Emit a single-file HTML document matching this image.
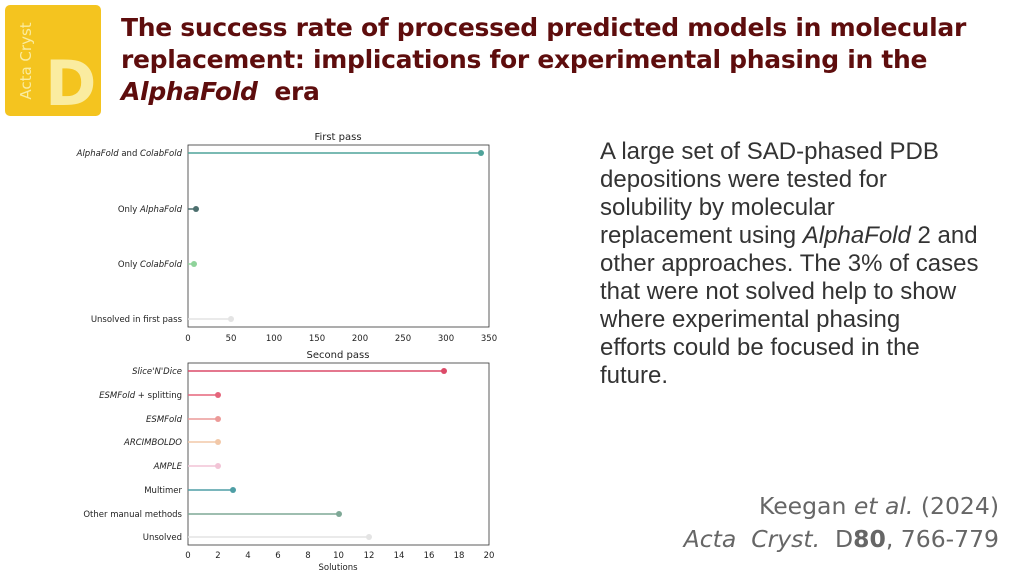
<!DOCTYPE html>
<html><head><meta charset="utf-8"><style>
body{margin:0;width:1014px;height:570px;background:#fff;position:relative;overflow:hidden;font-family:"Liberation Sans","DejaVu Sans",sans-serif}
.logo{position:absolute;left:5px;top:5px;width:96px;height:111px;background:#f4c41f;border-radius:5px}
.title{position:absolute;left:121px;top:12px;font-family:"DejaVu Sans",sans-serif;font-weight:bold;font-size:25px;line-height:32px;color:#5e0d0d;letter-spacing:-0.3px}
.para{position:absolute;left:600px;top:138px;width:420px;white-space:nowrap;font-family:"Liberation Sans",sans-serif;font-size:24px;line-height:28px;color:#333}
.cite{position:absolute;right:15px;top:490px;text-align:right;font-family:"DejaVu Sans",sans-serif;font-size:23.5px;line-height:33px;color:#666}
</style></head><body>
<div class="logo">
<div style="position:absolute;left:-28px;top:46px;width:100px;height:20px;transform:rotate(-90deg);color:#faeca0;font-size:15px;text-align:center;font-family:'DejaVu Sans',sans-serif">Acta Cryst</div>
<div style="position:absolute;left:40px;top:46px;color:#faeca0;font-size:62px;font-weight:bold;font-family:'DejaVu Sans',sans-serif;line-height:66px">D</div>
</div>
<div class="title">The success rate of processed predicted models in molecular<br>replacement: implications for experimental phasing in the<br><i>AlphaFold</i>&nbsp; era</div>
<div class="para">A large set of SAD-phased PDB<br>depositions were tested for<br>solubility by molecular<br>replacement using <i>AlphaFold</i> 2 and<br>other approaches. The 3% of cases<br>that were not solved help to show<br>where experimental phasing<br>efforts could be focused in the<br>future.</div>
<div class="cite">Keegan <i>et al.</i> (2024)<br><i>Acta&nbsp; Cryst.</i>&nbsp; D<b>80</b>, 766-779</div>
<svg width="1014" height="570" style="position:absolute;left:0;top:0" font-family="DejaVu Sans, sans-serif" font-size="8.5" fill="#222">
<text x="338" y="140" text-anchor="middle" font-size="10">First pass</text>
<rect x="188" y="145" width="301" height="182" fill="none" stroke="#333" stroke-width="0.8"/>
<g stroke-width="1.5">
<line x1="188" y1="153" x2="481" y2="153" stroke="#4fa39a"/><circle cx="481" cy="153" r="3" fill="#4fa39a"/>
<line x1="188" y1="209" x2="196" y2="209" stroke="#4c6f6e"/><circle cx="196" cy="209" r="3" fill="#4c6f6e"/>
<line x1="188" y1="264" x2="194" y2="264" stroke="#8fd39a"/><circle cx="194" cy="264" r="3" fill="#8fd39a"/>
<line x1="188" y1="319" x2="231" y2="319" stroke="#e4e4e4"/><circle cx="231" cy="319" r="3" fill="#e4e4e4"/>
</g>
<g text-anchor="end">
<text x="182" y="156"><tspan font-style="italic">AlphaFold</tspan> and <tspan font-style="italic">ColabFold</tspan></text>
<text x="182" y="212">Only <tspan font-style="italic">AlphaFold</tspan></text>
<text x="182" y="267">Only <tspan font-style="italic">ColabFold</tspan></text>
<text x="182" y="322">Unsolved in first pass</text>
</g>
<g text-anchor="middle">
<text x="188" y="341">0</text><text x="231" y="341">50</text><text x="274" y="341">100</text><text x="317" y="341">150</text><text x="360" y="341">200</text><text x="403" y="341">250</text><text x="446" y="341">300</text><text x="489" y="341">350</text>
</g>
<text x="338" y="358" text-anchor="middle" font-size="10">Second pass</text>
<rect x="188" y="363" width="301" height="182" fill="none" stroke="#333" stroke-width="0.8"/>
<g stroke-width="1.5">
<line x1="188" y1="371" x2="444" y2="371" stroke="#dc4a68"/><circle cx="444" cy="371" r="3" fill="#dc4a68"/>
<line x1="188" y1="395" x2="218" y2="395" stroke="#e5657b"/><circle cx="218" cy="395" r="3" fill="#e5657b"/>
<line x1="188" y1="419" x2="218" y2="419" stroke="#ec9a98"/><circle cx="218" cy="419" r="3" fill="#ec9a98"/>
<line x1="188" y1="442" x2="218" y2="442" stroke="#f2c8a8"/><circle cx="218" cy="442" r="3" fill="#f2c8a8"/>
<line x1="188" y1="466" x2="218" y2="466" stroke="#f2c4d6"/><circle cx="218" cy="466" r="3" fill="#f2c4d6"/>
<line x1="188" y1="490" x2="233" y2="490" stroke="#4e9ea5"/><circle cx="233" cy="490" r="3" fill="#4e9ea5"/>
<line x1="188" y1="514" x2="339" y2="514" stroke="#7ea896"/><circle cx="339" cy="514" r="3" fill="#7ea896"/>
<line x1="188" y1="537" x2="369" y2="537" stroke="#e4e4e4"/><circle cx="369" cy="537" r="3" fill="#e4e4e4"/>
</g>
<g text-anchor="end">
<text x="182" y="374" font-style="italic">Slice'N'Dice</text>
<text x="182" y="398"><tspan font-style="italic">ESMFold</tspan> + splitting</text>
<text x="182" y="422" font-style="italic">ESMFold</text>
<text x="182" y="445" font-style="italic">ARCIMBOLDO</text>
<text x="182" y="469" font-style="italic">AMPLE</text>
<text x="182" y="493">Multimer</text>
<text x="182" y="517">Other manual methods</text>
<text x="182" y="540">Unsolved</text>
</g>
<g text-anchor="middle">
<text x="188" y="558">0</text><text x="218" y="558">2</text><text x="248" y="558">4</text><text x="278" y="558">6</text><text x="308" y="558">8</text><text x="338.5" y="558">10</text><text x="369" y="558">12</text><text x="399" y="558">14</text><text x="429" y="558">16</text><text x="459" y="558">18</text><text x="489" y="558">20</text>
</g>
<text x="338" y="570" text-anchor="middle">Solutions</text>
</svg>
</body></html>
